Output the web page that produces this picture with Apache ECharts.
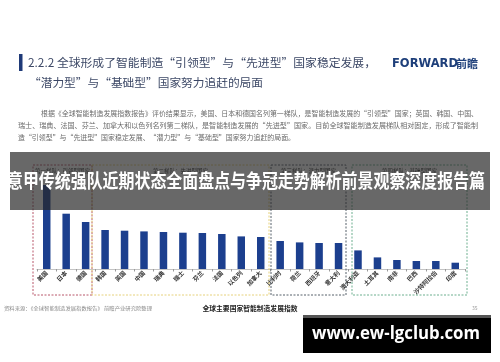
<!DOCTYPE html>
<html>
<head>
<meta charset="utf-8">
<script src="https://cdn.jsdelivr.net/npm/echarts@6/dist/echarts.min.js"></script>
<style>
html,body{margin:0;padding:0;background:#fff;}
#chart{width:500px;height:362px;}
</style>
</head>
<body>
<div id="chart"></div>
<script>
// ---- data ----
const countries = ['美国','日本','德国','韩国','英国','中国','瑞典','瑞士','芬兰','法国','以色列','加拿大',
  '比利时','荷兰','西班牙','意大利','澳大利亚','土耳其','南非','巴西','沙特阿拉伯','印度'];
const indexValues = [84, 55.3, 47, 39, 38.3, 37.6, 37, 36.3, 36, 35, 32.6, 32,
  28, 26.6, 26, 26, 18.6, 11.6, 9, 8, 8, 6.3];
const tierNames = ['第一梯队：引领型国家','第二梯队：先进型国家','第三梯队：潜力型国家','第四梯队：基础型国家'];
const titleLine1 = '2.2.2 全球形成了智能制造“引领型”与“先进型”国家稳定发展，';
const titleLine2 = '“潜力型”与“基础型”国家努力追赶的局面';
const bodyLines = [
  '根据《全球智能制造发展指数报告》评价结果显示，美国、日本和德国名列第一梯队，是智能制造发展的“引领型”国家；英国、韩国、中国、',
  '瑞士、瑞典、法国、芬兰、加拿大和以色列名列第二梯队，是智能制造发展的“先进型”国家。目前全球智能制造发展梯队相对固定，形成了智能制',
  '造“引领型”与“先进型”国家稳定发展、“潜力型”与“基础型”国家努力追赶的局面。'
];
const bannerText = '意甲传统强队近期状态全面盘点与争冠走势解析前景观察深度报告篇';
const chartTitle = '全球主要国家智能制造发展指数';
const sourceText = '资料来源：《全球智能制造发展指数报告》 前瞻产业研究院整理';
const siteText = 'www.ew-lgclub.com';

const CJK = '"Noto Sans CJK SC","Noto Sans",sans-serif';
const chart = echarts.init(document.getElementById('chart'), null, {renderer:'canvas'});

const mctx = document.createElement('canvas').getContext('2d');
function fitScale(text, size, weight, family, target) {
  mctx.font = (weight || 'normal') + ' ' + size + 'px ' + (family || CJK);
  const w = mctx.measureText(text).width;
  return w > 0 ? target / w : 1;
}
function txt(x, y, text, size, color, opts) {
  opts = opts || {};
  const sx = opts.fit ? fitScale(text, size, opts.weight, opts.family, opts.fit) : 1;
  return {
    type:'text', x:x, y:y, z: opts.z || 10, scaleX: sx,
    style:{text:text, fontSize:size, fontFamily: opts.family || CJK, fontWeight: opts.weight || 'normal',
      fill:color, textAlign: opts.align || 'left', textVerticalAlign:'middle'}
  };
}
function box(x1, x2, color) {
  return {type:'rect', shape:{x:x1, y:165, width:x2-x1, height:130}, z:5,
    style:{fill:'none', stroke:color, lineWidth:1, lineDash:[2,1.5]}};
}

const graphics = [
  {type:'rect', shape:{x:19, y:54, width:3.5, height:17}, style:{fill:'#1f3a78'}},
  txt(28, 63, titleLine1, 11.5, '#3c4866', {fit:348}),
  txt(29, 83, titleLine2, 11.5, '#3c4866', {fit:234}),
  txt(392, 64, 'FORWARD', 11.5, '#1e3f7a', {weight:'bold', family:'"DejaVu Sans",sans-serif'}),
  txt(456, 64, '前瞻', 11, '#1e3f7a', {weight:'bold'}),
  txt(41, 113.5, bodyLines[0], 7, '#6a6a6a', {fit:437}),
  txt(18, 125, bodyLines[1], 7, '#6a6a6a', {fit:460}),
  txt(18, 137, bodyLines[2], 7, '#6a6a6a', {fit:277}),
  box(33, 92, '#b8566a'),
  box(92, 269, '#e6d17c'),
  box(271, 346, '#56606a'),
  box(352, 467, '#6caf8f'),
  txt(62.5, 171, tierNames[0], 5.5, '#333', {align:'center'}),
  txt(180.5, 171, tierNames[1], 5.5, '#333', {align:'center'}),
  txt(308.5, 171, tierNames[2], 5.5, '#333', {align:'center'}),
  txt(409.5, 171, tierNames[3], 5.5, '#333', {align:'center'}),
  txt(4, 308, sourceText, 5, '#888', {fit:148}),
  txt(250, 308, chartTitle, 6.8, '#222', {align:'center', weight:'bold', fit:95}),
  txt(472, 308, '35', 5, '#999'),
  // banner overlay
  {type:'rect', shape:{x:10, y:152, width:480, height:58}, z:100, style:{fill:'rgba(40,40,40,0.70)'}},
  txt(246, 181, bannerText, 19, '#fff', {align:'center', weight:'bold', z:101, fit:478}),
  // site box
  {type:'rect', shape:{x:303, y:315, width:188, height:3}, z:100, style:{fill:'#555'}},
  {type:'rect', shape:{x:303, y:318, width:188, height:35}, z:100, style:{fill:'#000'}},
  txt(396, 334, siteText, 18, '#fff', {align:'center', weight:'bold', z:101, fit:168, family:'"Open Sans","DejaVu Sans",sans-serif'})
];

chart.setOption({
  animation:false,
  backgroundColor:'#fff',
  grid:{left:37, right:35, top:169, bottom:93},
  xAxis:{
    type:'category', data:countries,
    axisLine:{lineStyle:{color:'#c4c4c4', width:1}},
    axisTick:{show:true, length:2.5, lineStyle:{color:'#999'}},
    axisLabel:{interval:0, rotate:45, fontSize:6, fontWeight:'bold', color:'#333', margin:3, fontFamily:CJK}
  },
  yAxis:{type:'value', min:0, max:100, show:false},
  series:[{
    type:'bar', data:indexValues, barWidth:7.5,
    itemStyle:{color:'#1c3f8e'}
  }],
  graphic:graphics
});
</script>
</body>
</html>
